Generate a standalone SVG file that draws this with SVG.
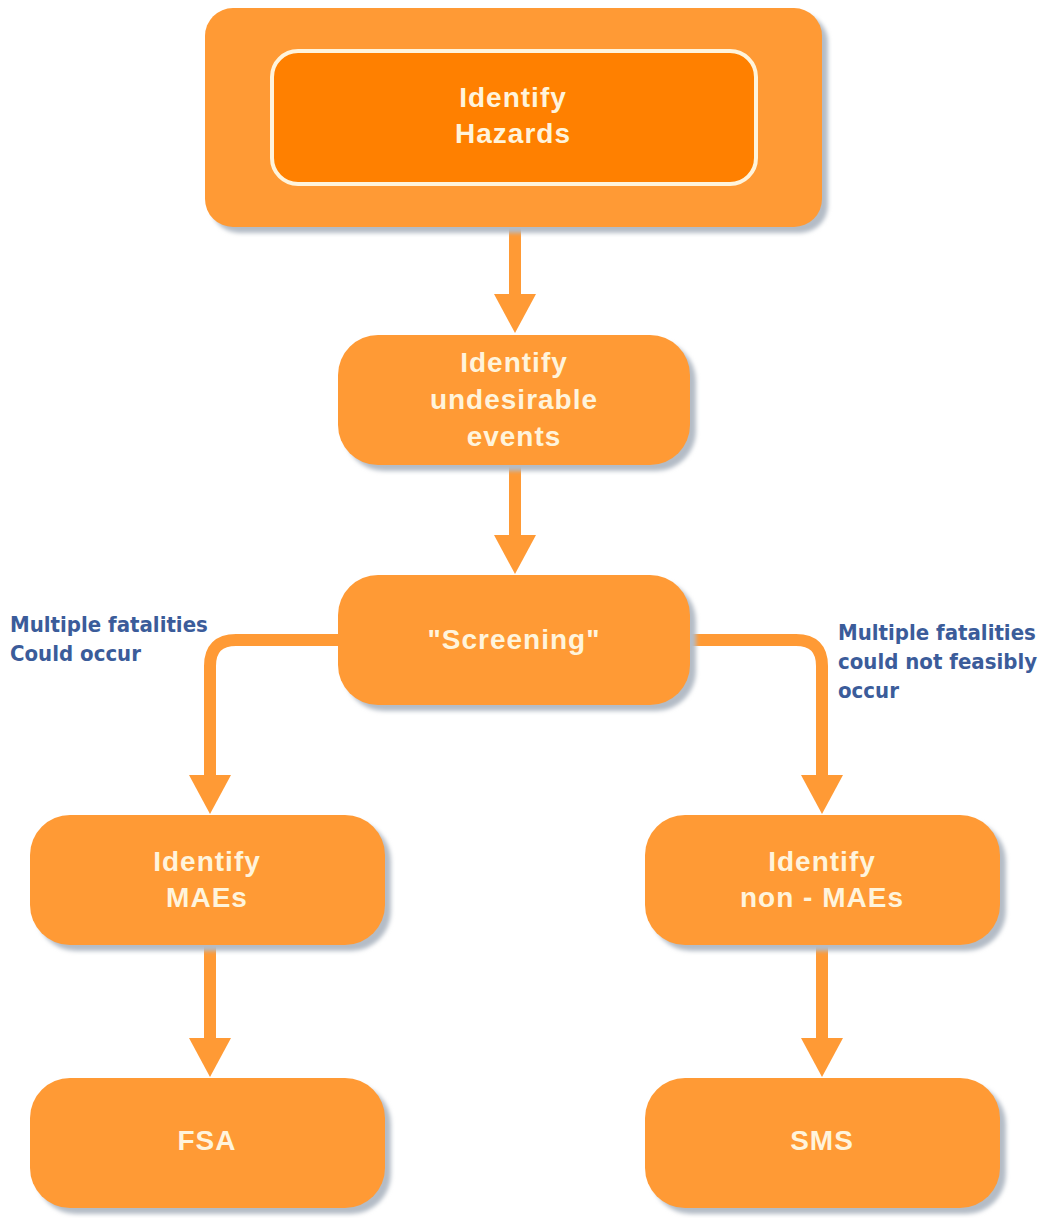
<svg xmlns="http://www.w3.org/2000/svg" width="1049" height="1218" viewBox="0 0 1049 1218">
<defs>
<style>
.box{fill:#FF9A35}
.shadow{fill:#B4BCC6}
.t{font-family:"Liberation Sans",Arial,sans-serif;font-weight:bold;font-size:28px;letter-spacing:1px;fill:#FFF4DC;text-anchor:middle}
.lbl{font-family:"Liberation Sans Narrow","DejaVu Sans Condensed","Liberation Sans",sans-serif;font-weight:bold;font-size:22px;fill:#3B5C9A}
.c{fill:none;stroke:#FF9A35;stroke-width:12}
.ah{fill:#FF9A35}
</style>
<filter id="blur" x="-5%" y="-5%" width="110%" height="110%"><feGaussianBlur stdDeviation="2"/></filter>
</defs>
<rect width="1049" height="1218" fill="#FFFFFF"/>
<g id="connectors">
<line class="c" x1="515" y1="226" x2="515" y2="296"/>
<polygon class="ah" points="494,294 536,294 515,333"/>
<line class="c" x1="515" y1="463" x2="515" y2="537"/>
<polygon class="ah" points="494,535 536,535 515,574"/>
<path class="c" d="M340,640 H236 Q210,640 210,666 V777"/>
<polygon class="ah" points="189,775 231,775 210,814"/>
<path class="c" d="M688,640 H796 Q822,640 822,666 V777"/>
<polygon class="ah" points="801,775 843,775 822,814"/>
<line class="c" x1="210" y1="943" x2="210" y2="1040"/>
<polygon class="ah" points="189,1038 231,1038 210,1077"/>
<line class="c" x1="822" y1="943" x2="822" y2="1040"/>
<polygon class="ah" points="801,1038 843,1038 822,1077"/>
</g>
<g id="n-hazards">
<rect class="shadow" x="211" y="14" width="617" height="219" rx="28" filter="url(#blur)"/>
<rect class="box" x="205" y="8" width="617" height="219" rx="28"/>
<rect x="272" y="51" width="484" height="133" rx="26" fill="#FF8000" stroke="#FFF4DC" stroke-width="4"/>
<text class="t" x="513" y="107">Identify</text>
<text class="t" x="513" y="143">Hazards</text>
</g>
<g id="n-undesirable">
<rect class="shadow" x="344" y="341" width="352" height="130" rx="40" filter="url(#blur)"/>
<rect class="box" x="338" y="335" width="352" height="130" rx="40"/>
<text class="t" x="514" y="372">Identify</text>
<text class="t" x="514" y="409">undesirable</text>
<text class="t" x="514" y="446">events</text>
</g>
<g id="n-screening">
<rect class="shadow" x="344" y="581" width="352" height="130" rx="40" filter="url(#blur)"/>
<rect class="box" x="338" y="575" width="352" height="130" rx="40"/>
<text class="t" x="514" y="649">"Screening"</text>
</g>
<g id="n-maes">
<rect class="shadow" x="36" y="821" width="355" height="130" rx="40" filter="url(#blur)"/>
<rect class="box" x="30" y="815" width="355" height="130" rx="40"/>
<text class="t" x="207" y="871">Identify</text>
<text class="t" x="207" y="907">MAEs</text>
</g>
<g id="n-nonmaes">
<rect class="shadow" x="651" y="821" width="355" height="130" rx="40" filter="url(#blur)"/>
<rect class="box" x="645" y="815" width="355" height="130" rx="40"/>
<text class="t" x="822" y="871">Identify</text>
<text class="t" x="822" y="907">non - MAEs</text>
</g>
<g id="n-fsa">
<rect class="shadow" x="36" y="1084" width="355" height="130" rx="40" filter="url(#blur)"/>
<rect class="box" x="30" y="1078" width="355" height="130" rx="40"/>
<text class="t" x="207" y="1150">FSA</text>
</g>
<g id="n-sms">
<rect class="shadow" x="651" y="1084" width="355" height="130" rx="40" filter="url(#blur)"/>
<rect class="box" x="645" y="1078" width="355" height="130" rx="40"/>
<text class="t" x="822" y="1150">SMS</text>
</g>
<g id="labels">
<text class="lbl" x="10" y="632">Multiple fatalities</text>
<text class="lbl" x="10" y="661">Could occur</text>
<text class="lbl" x="838" y="640">Multiple fatalities</text>
<text class="lbl" x="838" y="669">could not feasibly</text>
<text class="lbl" x="838" y="698">occur</text>
</g>
</svg>
